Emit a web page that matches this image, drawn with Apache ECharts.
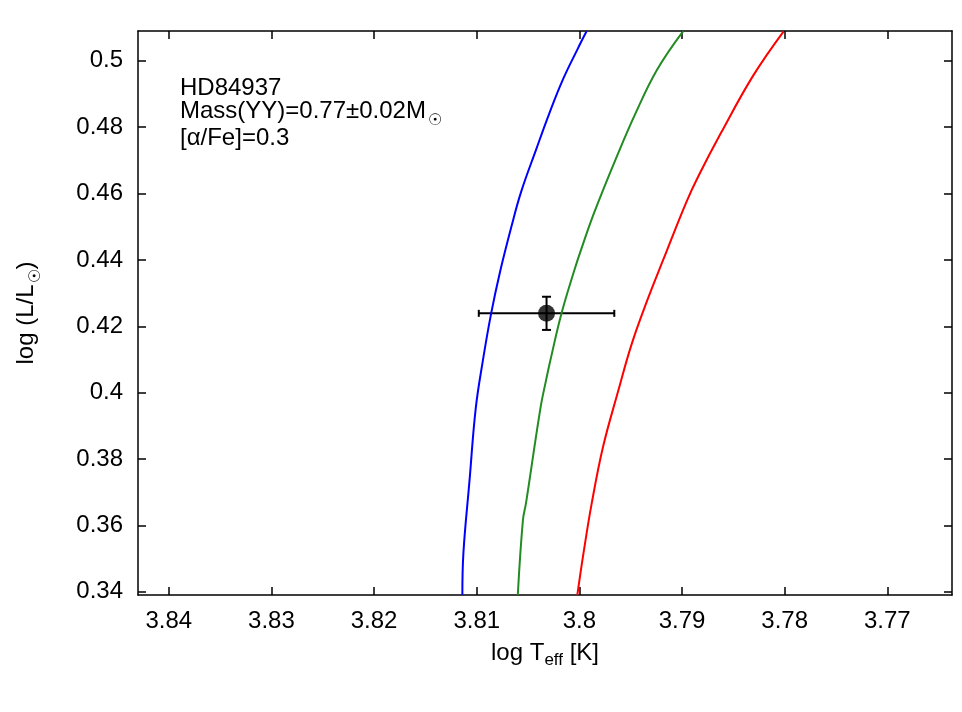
<!DOCTYPE html>
<html>
<head>
<meta charset="utf-8">
<script src="https://cdn.jsdelivr.net/npm/echarts@6/dist/echarts.min.js"></script>
<style>
  html, body { margin: 0; padding: 0; background: #fff; }
  #chart { width: 962px; height: 712px; }
</style>
</head>
<body>
<div id="chart"></div>
<script>
// isochrone tracks (log Teff, log L/Lsun)
const blueT = [3.8114, 3.8113, 3.8107, 3.8101, 3.8094, 3.8086, 3.8077, 3.8066, 3.8057, 3.8042, 3.8029, 3.8016, 3.8002, 3.7993];
const blueL = [0.339, 0.3516, 0.3736, 0.3952, 0.4097, 0.4238, 0.4368, 0.4503, 0.4603, 0.4734, 0.4844, 0.4944, 0.5034, 0.5089];

const greenT = [3.8060, 3.8055, 3.8052, 3.8038, 3.80325, 3.80283, 3.80174, 3.8005, 3.7998, 3.79855, 3.79647, 3.7945, 3.79242, 3.7899];
const greenL = [0.339, 0.3616, 0.3667, 0.3952, 0.4037, 0.4097, 0.4239, 0.4368, 0.4434, 0.4543, 0.4703, 0.4844, 0.4974, 0.5089];

const redT = [3.8002, 3.7996, 3.7988, 3.7977, 3.7962, 3.7949, 3.7934, 3.7918, 3.7896, 3.7884, 3.7862, 3.7831, 3.7801];
const redL = [0.339, 0.3516, 0.3666, 0.3836, 0.4007, 0.4147, 0.4277, 0.4403, 0.4573, 0.4653, 0.4783, 0.4954, 0.5089];

// the star: value and errors
const starT = [3.8032];
const starL = [0.4239];
const starErrT = [0.0066];
const starErrL = [0.005];

const xTicks = [3.84, 3.83, 3.82, 3.81, 3.80, 3.79, 3.78, 3.77];
const yTicks = [0.34, 0.36, 0.38, 0.40, 0.42, 0.44, 0.46, 0.48, 0.50];

const font = "'Liberation Sans', Arial, sans-serif";
const fmt = v => String(+(+v).toFixed(3));
const pairs = (a, b) => a.map((v, i) => [v, b[i]]);

const chart = echarts.init(document.getElementById('chart'));

const axisLine = { show: true, onZero: false, lineStyle: { color: '#000', width: 1.5 } };
// subscripts: top padding pushes the token down by half its value
const effStyle = { fontSize: 17, fontFamily: font, color: '#000', lineHeight: 24, padding: [14, 0, 0, 0] };
const sunStyle = { fontSize: 16, color: '#000', lineHeight: 24, padding: [20, 0, 0, 1] };

const option = {
  animation: false,
  backgroundColor: '#fff',
  grid: { left: 137, right: 10, top: 31, bottom: 117, show: false },
  xAxis: [{
    type: 'value',
    inverse: true,
    min: 3.7637,
    max: 3.843,
    position: 'bottom',
    axisLine: axisLine,
    axisTick: { show: true, inside: true, length: 8, customValues: xTicks, lineStyle: { color: '#000', width: 1.5 } },
    axisLabel: { customValues: xTicks, formatter: fmt, margin: 14, color: '#000', fontSize: 24, fontFamily: font },
    splitLine: { show: false },
    name: 'log T{sub|eff} [K]',
    nameLocation: 'middle',
    nameGap: 42,
    nameTextStyle: { color: '#000', fontSize: 24, fontFamily: font, lineHeight: 24, rich: { sub: effStyle } }
  }, {
    type: 'value',
    inverse: true,
    min: 3.7637,
    max: 3.843,
    position: 'top',
    axisLine: axisLine,
    axisTick: { show: true, inside: true, length: 8, customValues: xTicks, lineStyle: { color: '#000', width: 1.5 } },
    axisLabel: { show: false },
    splitLine: { show: false }
  }],
  yAxis: [{
    type: 'value',
    min: 0.339,
    max: 0.509,
    position: 'left',
    axisLine: axisLine,
    axisTick: { show: true, inside: true, length: 8, customValues: yTicks, lineStyle: { color: '#000', width: 1.5 } },
    axisLabel: { customValues: yTicks, formatter: fmt, margin: 15, color: '#000', fontSize: 24, fontFamily: font },
    splitLine: { show: false },
    name: 'log (L/L{sun|☉})',
    nameLocation: 'middle',
    nameGap: 100,
    nameTextStyle: { color: '#000', fontSize: 24, fontFamily: font, lineHeight: 24, rich: { sun: sunStyle } }
  }, {
    type: 'value',
    min: 0.339,
    max: 0.509,
    position: 'right',
    axisLine: axisLine,
    axisTick: { show: true, inside: true, length: 8, customValues: yTicks, lineStyle: { color: '#000', width: 1.5 } },
    axisLabel: { show: false },
    splitLine: { show: false }
  }],
  graphic: [{
    type: 'text', left: 180, top: 76,
    style: { text: 'HD84937', fill: '#000', fontSize: 24, fontFamily: font, lineHeight: 24 }
  }, {
    type: 'text', left: 180, top: 93,
    style: {
      text: 'Mass(YY)=0.77±0.02M{sun|☉}', fill: '#000', fontSize: 24, fontFamily: font, lineHeight: 24,
      rich: { sun: { fontSize: 16, fill: '#000', lineHeight: 24, padding: [20, 0, 0, 2] } }
    }
  }, {
    type: 'text', left: 180, top: 126,
    style: { text: '[α/Fe]=0.3', fill: '#000', fontSize: 24, fontFamily: font, lineHeight: 24 }
  }],
  series: [{
    type: 'line',
    data: pairs(blueT, blueL),
    showSymbol: false,
    smooth: 0.4,
    clip: true,
    lineStyle: { color: '#0000ff', width: 2 }
  }, {
    type: 'line',
    data: pairs(greenT, greenL),
    showSymbol: false,
    smooth: 0.4,
    clip: true,
    lineStyle: { color: '#228b22', width: 2 }
  }, {
    type: 'line',
    data: pairs(redT, redL),
    showSymbol: false,
    smooth: 0.4,
    clip: true,
    lineStyle: { color: '#ff0000', width: 2 }
  }, {
    type: 'custom',
    data: starT.map((t, i) => [t, starL[i], starErrT[i], starErrL[i]]),
    renderItem: function (params, api) {
      const x = api.value(0), y = api.value(1), dx = api.value(2), dy = api.value(3);
      const l = api.coord([x + dx, y]);
      const r = api.coord([x - dx, y]);
      const t = api.coord([x, y + dy]);
      const b = api.coord([x, y - dy]);
      const st = { stroke: '#000', lineWidth: 2 };
      const seg = (x1, y1, x2, y2) => ({ type: 'line', shape: { x1, y1, x2, y2 }, style: st });
      return {
        type: 'group',
        children: [
          seg(l[0], l[1], r[0], r[1]),
          seg(l[0], l[1] - 3.5, l[0], l[1] + 3.5),
          seg(r[0], r[1] - 3.5, r[0], r[1] + 3.5),
          seg(t[0], t[1], b[0], b[1]),
          seg(t[0] - 4.5, t[1], t[0] + 4.5, t[1]),
          seg(b[0] - 4.5, b[1], b[0] + 4.5, b[1])
        ]
      };
    }
  }, {
    type: 'scatter',
    data: pairs(starT, starL),
    symbol: 'circle',
    symbolSize: 17,
    itemStyle: { color: '#000' }
  }]
};

chart.setOption(option);
</script>
</body>
</html>
